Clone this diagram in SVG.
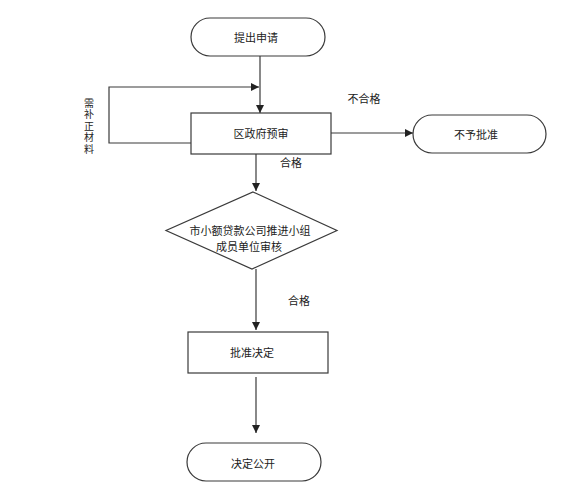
<svg xmlns="http://www.w3.org/2000/svg" width="568" height="500" viewBox="0 0 568 500">
<style>
.n{fill:#fff;stroke:#3a3a3a;stroke-width:1.2}
.c{fill:none;stroke:#3a3a3a;stroke-width:1.2}
text{font-family:"Noto Sans CJK SC","Liberation Sans",sans-serif;font-size:11px;fill:#222}
.m{text-anchor:middle;dominant-baseline:central}
.v{font-size:10px;writing-mode:vertical-rl;letter-spacing:1.5px}
</style>
<defs>
<marker id="ah" viewBox="0 0 10 10" refX="10" refY="5" markerWidth="8" markerHeight="8" markerUnits="userSpaceOnUse" orient="auto">
<path d="M0,0 L10,5 L0,10 z" fill="#222"/>
</marker>
</defs>
<rect width="568" height="500" fill="#fff"/>
<g id="connectors">
<line class="c" x1="260" y1="56" x2="260" y2="113" marker-end="url(#ah)"/>
<polyline class="c" points="191,143 109,143 109,87 259,87" marker-end="url(#ah)"/>
<line class="c" x1="331" y1="133" x2="413" y2="133" marker-end="url(#ah)"/>
<line class="c" x1="256" y1="154" x2="256" y2="191" marker-end="url(#ah)"/>
<line class="c" x1="256" y1="269" x2="256" y2="330" marker-end="url(#ah)"/>
<line class="c" x1="256" y1="377" x2="256" y2="433" marker-end="url(#ah)"/>
<text class="m" x="364" y="98">不合格</text>
<text class="m" x="291" y="162">合格</text>
<text class="m" x="299" y="300">合格</text>
<text class="v" x="89" y="98">需补正材料</text>
</g>
<g id="start">
<rect class="n" x="191" y="18" width="134" height="38" rx="19"/>
<text class="m" x="256" y="37">提出申请</text>
</g>
<g id="review">
<rect class="n" x="191" y="113" width="140" height="41"/>
<text class="m" x="261" y="133">区政府预审</text>
</g>
<g id="reject">
<rect class="n" x="413" y="115" width="133" height="38" rx="19"/>
<text class="m" x="476" y="134">不予批准</text>
</g>
<g id="decision">
<polygon class="n" points="253,192 337,230.5 252,269 166,230.5"/>
<text class="m"><tspan x="250" y="229.5">市小额贷款公司推进小组</tspan><tspan x="249" y="245.5">成员单位审核</tspan></text>
</g>
<g id="approve">
<rect class="n" x="188" y="332" width="140" height="41"/>
<text class="m" x="252" y="352">批准决定</text>
</g>
<g id="publish">
<rect class="n" x="187" y="443" width="134" height="38" rx="19"/>
<text class="m" x="253" y="463">决定公开</text>
</g>
</svg>
